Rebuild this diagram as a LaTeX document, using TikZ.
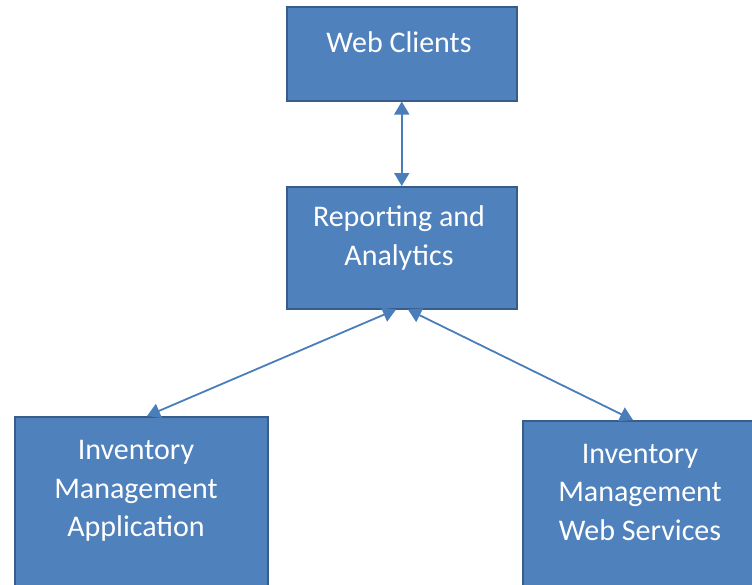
\documentclass[tikz,border=0pt]{standalone}
\usepackage{fontspec}
\setmainfont{Carlito}
\usetikzlibrary{arrows.meta,calc}
\definecolor{boxfill}{HTML}{4F81BD}
\definecolor{boxline}{HTML}{385D8A}
\definecolor{connc}{HTML}{4A7EBB}
\begin{document}
\begin{tikzpicture}[x=1pt,y=-1pt,
  box/.style={draw=boxline, fill=boxfill, line width=1.5pt, inner sep=0pt, anchor=north west},
  lbl/.style={text=white, font=\fontsize{30}{38.5}\selectfont, align=center, inner sep=0pt},
  link/.style={draw=connc, line width=1.8pt, {Triangle[width=15pt,length=13pt]}-{Triangle[width=15pt,length=13pt]}}]
\useasboundingbox (0,0) rectangle (752,584);
\node[box, minimum width=230pt, minimum height=94pt] (web) at (286,6) {};
\node[box, minimum width=230pt, minimum height=122pt] (rep) at (286,186) {};
\node[box, minimum width=253pt, minimum height=180pt] (ima) at (14,416) {};
\node[box, minimum width=240pt, minimum height=180pt] (imw) at (522,420) {};
\node[lbl] (webl) at (399,42) {Web Clients};
\node[lbl] (repl) at (399,238) {Reporting and\\Analytics};
\node[lbl] (imal) at (136,491) {Inventory\\Management\\Application};
\node[lbl] (imwl) at (640,492) {Inventory\\Management\\Web Services};
\draw[link] (web.south) -- (rep.north);
\draw[link] ($(rep.south west)+(110,0)$) -- ($(ima.north west)+(133,0)$);
\draw[link] ($(rep.south west)+(122,0)$) -- ($(imw.north west)+(111,0)$);
\end{tikzpicture}
\end{document}
